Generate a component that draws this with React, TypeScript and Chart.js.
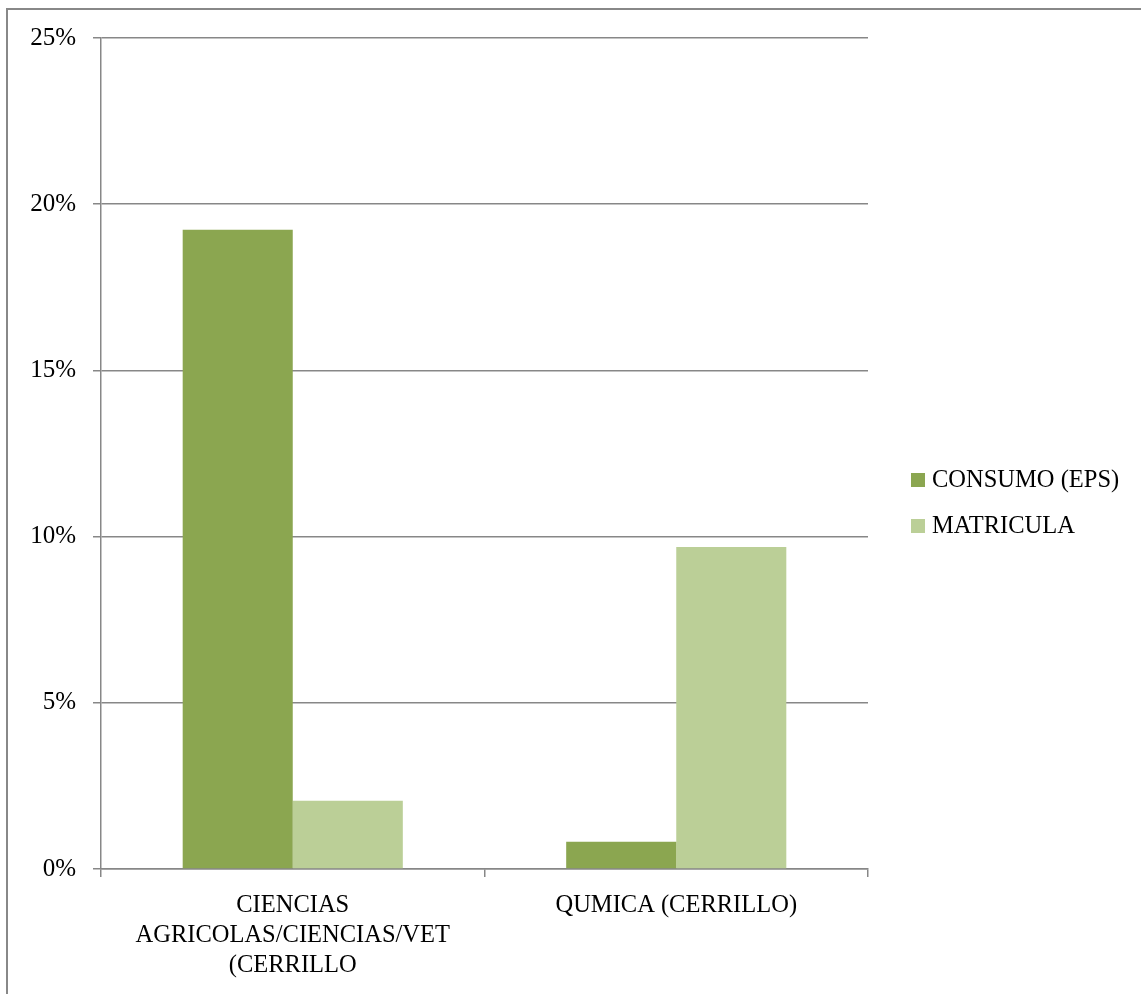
import React, { useEffect, useRef } from "react";
import { Chart, registerables } from "chart.js";

Chart.register(...registerables);

const categories: (string | string[])[] = [
  ["CIENCIAS", "AGRICOLAS/CIENCIAS/VET", "(CERRILLO"],
  "QUMICA (CERRILLO)",
];
const seriesNames = ["CONSUMO (EPS)", "MATRICULA"];
const consumo = [19.23, 0.82];
const matricula = [2.05, 9.69];
const yTicks = [0, 5, 10, 15, 20, 25];

const FONT = "'Liberation Serif', 'Times New Roman', serif";
const GRID = "#878787";
const DARK = "#8BA650";
const LIGHT = "#BBCF97";

// Legend drawn beside the plot: square swatch + label, stacked vertically.
const sideLegend = {
  id: "sideLegend",
  afterDraw(chart: Chart) {
    const { ctx, chartArea } = chart;
    const x = chartArea.right + 43;
    const firstY = 480;
    const step = 46;
    ctx.save();
    ctx.font = `24.5px ${FONT}`;
    ctx.textBaseline = "middle";
    ctx.textAlign = "left";
    chart.data.datasets.forEach((ds, i) => {
      const cy = firstY + i * step;
      ctx.fillStyle = ds.backgroundColor as string;
      ctx.fillRect(x, cy - 7, 14, 14);
      ctx.fillStyle = "#000";
      ctx.fillText(ds.label as string, x + 21, cy + 1);
    });
    ctx.restore();
  },
};

export default function App() {
  const ref = useRef<HTMLCanvasElement>(null);

  useEffect(() => {
    if (!ref.current) return;
    const chart = new Chart(ref.current, {
      type: "bar",
      data: {
        labels: categories,
        datasets: [
          { label: seriesNames[0], data: consumo, backgroundColor: DARK },
          { label: seriesNames[1], data: matricula, backgroundColor: LIGHT },
        ],
      },
      options: {
        animation: false,
        responsive: false,
        maintainAspectRatio: false,
        layout: { padding: { left: 0, top: 38, right: 273, bottom: 0 } },
        datasets: {
          bar: { categoryPercentage: 0.574, barPercentage: 1.0 },
        },
        plugins: {
          legend: { display: false },
          tooltip: { enabled: false },
        },
        scales: {
          x: {
            offset: true,
            grid: {
              offset: true,
              display: true,
              drawOnChartArea: false,
              drawTicks: true,
              tickLength: 8,
              color: GRID,
              lineWidth: 1.5,
            },
            border: { display: true, color: GRID, width: 1.5 },
            ticks: {
              color: "#000",
              padding: 14,
              maxRotation: 0,
              autoSkip: false,
              font: { family: FONT, size: 24.5, lineHeight: 1.22 },
            },
            afterFit(axis: any) {
              axis.height = 125;
            },
          },
          y: {
            min: 0,
            max: 25,
            afterBuildTicks(axis: any) {
              axis.ticks = yTicks.map((v) => ({ value: v }));
            },
            grid: {
              color: GRID,
              lineWidth: 1.5,
              drawTicks: true,
              tickLength: 8,
            },
            border: { display: true, color: GRID, width: 1.5 },
            ticks: {
              color: "#000",
              padding: 17,
              font: { family: FONT, size: 25 },
              callback: (v: any) => `${v}%`,
            },
            afterFit(axis: any) {
              axis.width = 101;
            },
          },
        },
      },
      plugins: [sideLegend],
    });
    return () => chart.destroy();
  }, []);

  return (
    <div
      style={{
        position: "fixed",
        left: 0,
        top: 0,
        width: 1141,
        height: 994,
        overflow: "hidden",
        background: "#fff",
      }}
    >
      <div
        style={{
          position: "absolute",
          left: 6,
          top: 8,
          width: 1400,
          height: 1200,
          border: "2px solid #888888",
        }}
      />
      <canvas
        ref={ref}
        width={1141}
        height={994}
        style={{ position: "absolute", left: 0, top: 0, width: 1141, height: 994 }}
      />
    </div>
  );
}
